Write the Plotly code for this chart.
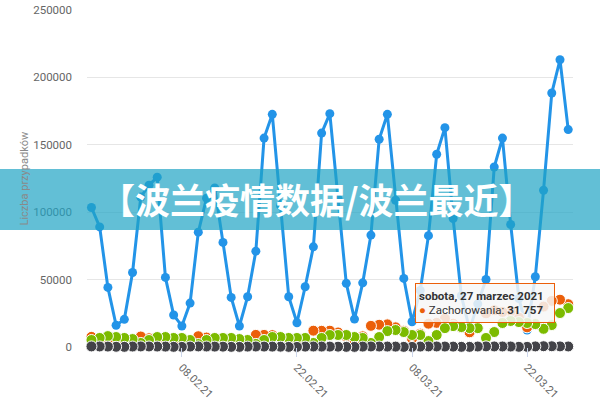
import pandas as pd
import plotly.graph_objects as go

# ---- data ----
dates = pd.date_range("2021-01-28", "2021-03-27", freq="D")

blue_vals = [103500, 89100, 44200, 16100, 20500, 55300, 111300, 120000, 126000, 51600,
             23700, 15600, 32600, 85200, 110400, 118000, 77600, 36800, 15600, 37300,
             71100, 155000, 172600, 105000, 37300, 18000, 44700, 74300, 158700, 173100,
             110000, 47200, 20700, 47600, 83000, 154100, 172600, 108900, 50900, 18700,
             42000, 82600, 143000, 162700, 95300, 38000, 13100, 32000, 50100, 133500,
             155000, 90900, 36000, 12600, 52100, 116300, 188400, 213100, 161300]

orange_vals = [7500, 6500, 5800, 5000, 2500, 4200, 7800, 6500, 6100, 5600,
               4500, 2400, 3900, 8000, 7000, 6600, 5800, 4900, 2500, 4700,
               9000, 9000, 8800, 7300, 6300, 4100, 6300, 12100, 12000, 12100,
               10800, 7900, 4800, 7900, 15700, 16500, 16800, 14600, 12000, 6200,
               9900, 17300, 17900, 21000, 17300, 14400, 10900, 14400, 25000, 27300,
               26000, 26400, 21800, 14600, 16700, 30000, 34200, 35100, 31757]

green_vals = [5200, 6700, 8100, 7400, 6700, 5900, 3000, 5200, 7400, 7400,
              6700, 6700, 5200, 2200, 5200, 6700, 6700, 6700, 5900, 5200,
              2300, 5200, 7400, 7400, 6700, 6700, 6700, 3000, 6700, 8900,
              8900, 8900, 7400, 6700, 3000, 7400, 11800, 12600, 11100, 8900,
              8900, 4400, 8900, 14000, 15500, 14800, 14000, 14000, 6700, 11100,
              17800, 19300, 18500, 17800, 17000, 13500, 16300, 25200, 28900]

gray_vals = [430, 390, 330, 160, 120, 350, 420, 390, 350, 300,
             120, 90, 330, 420, 380, 300, 260, 110, 80, 300,
             370, 320, 280, 240, 90, 70, 290, 370, 320, 300,
             250, 110, 90, 300, 390, 370, 330, 290, 100, 90,
             330, 420, 400, 350, 300, 120, 100, 370, 450, 420,
             390, 360, 150, 120, 450, 580, 560, 460, 400]

y_ticks = [0, 50000, 100000, 150000, 200000, 250000]
x_ticks = ["2021-02-08", "2021-02-22", "2021-03-08", "2021-03-22"]

BLUE = "#2394e8"
ORANGE = "#eb5f0a"
GREEN = "#7cbb00"
GRAY = "#434348"

fig = go.Figure()

fig.add_trace(go.Scatter(
    x=dates, y=blue_vals, mode="lines+markers", name="Testy",
    line=dict(color=BLUE, width=3),
    marker=dict(color=BLUE, size=9),
    cliponaxis=False, hoverinfo="skip"))

# marker-only series, drawn right-to-left so left points sit on top
for vals, col, nm in [(orange_vals, ORANGE, "Zachorowania"),
                      (green_vals, GREEN, "Wyzdrowienia"),
                      (gray_vals, GRAY, "Zgony")]:
    fig.add_trace(go.Scatter(
        x=list(dates[::-1]), y=vals[::-1], mode="markers", name=nm,
        marker=dict(color=col, size=11, line=dict(color="white", width=1)),
        cliponaxis=False, hoverinfo="skip"))

L, R, T, B = 87, 27, 10, 53
PW, PH = 600 - L - R, 400 - T - B

def px_x(x):
    return (x - L) / PW

def px_y(y):
    return (400 - B - y) / PH

fig.update_layout(
    width=600, height=400,
    margin=dict(l=L, r=R, t=T, b=B, autoexpand=False),
    paper_bgcolor="white", plot_bgcolor="white",
    showlegend=False,
    font=dict(family="Roboto", color="#666666", size=11),
    xaxis=dict(
        type="date", automargin=False,
        range=["2021-01-27 11:00", "2021-03-27 14:00"],
        tickvals=x_ticks, tickformat="%d.%m.%y", tickangle=45,
        showgrid=False, zeroline=False, showline=False,
        ticks="outside", ticklen=9, tickcolor="#ccd6eb",
        tickfont=dict(size=11, color="#666666"),
    ),
    yaxis=dict(
        range=[0, 250000], tickvals=y_ticks, tickformat="d",
        automargin=False,
        showgrid=True, gridcolor="#e6e6e6", gridwidth=1,
        zeroline=False, showline=False,
        ticklabelstandoff=14,
        tickfont=dict(size=11.5, color="#666666"),
    ),
)

# y axis title
fig.add_annotation(
    text="Liczba przypadków", textangle=-90, showarrow=False,
    xref="paper", yref="paper", x=px_x(24), y=0.5,
    xanchor="center", yanchor="middle",
    font=dict(size=11, color="#8a8a8a"))

# banner overlay
fig.add_shape(
    type="rect", xref="paper", yref="paper",
    x0=px_x(0), x1=px_x(600), y0=px_y(230), y1=px_y(169),
    fillcolor="rgba(31,164,196,0.70)", line=dict(width=0), layer="above")

fig.add_annotation(
    text="<b>【波兰疫情数据/波兰最近】</b>", showarrow=False,
    xref="paper", yref="paper", x=px_x(317), y=px_y(199),
    xanchor="center", yanchor="middle",
    font=dict(family="Noto Sans CJK SC", size=35, color="white"))

# tooltip
fig.add_annotation(
    text="<b>sobota, 27 marzec 2021</b><br>"
         f"<span style='color:{ORANGE}'>●</span> Zachorowania: <b>31 757</b>",
    showarrow=False, align="left", valign="middle",
    xref="paper", yref="paper", x=px_x(485), y=px_y(303),
    xanchor="center", yanchor="middle",
    width=132, height=32, borderpad=3, borderwidth=1,
    bordercolor=ORANGE, bgcolor="rgba(247,247,247,0.85)",
    font=dict(family="Roboto", size=11.5, color="#333333"))

fig.write_html("out.html",
               config={"displayModeBar": False},
               post_script="document.body.style.margin='0';document.body.style.overflow='hidden';")
